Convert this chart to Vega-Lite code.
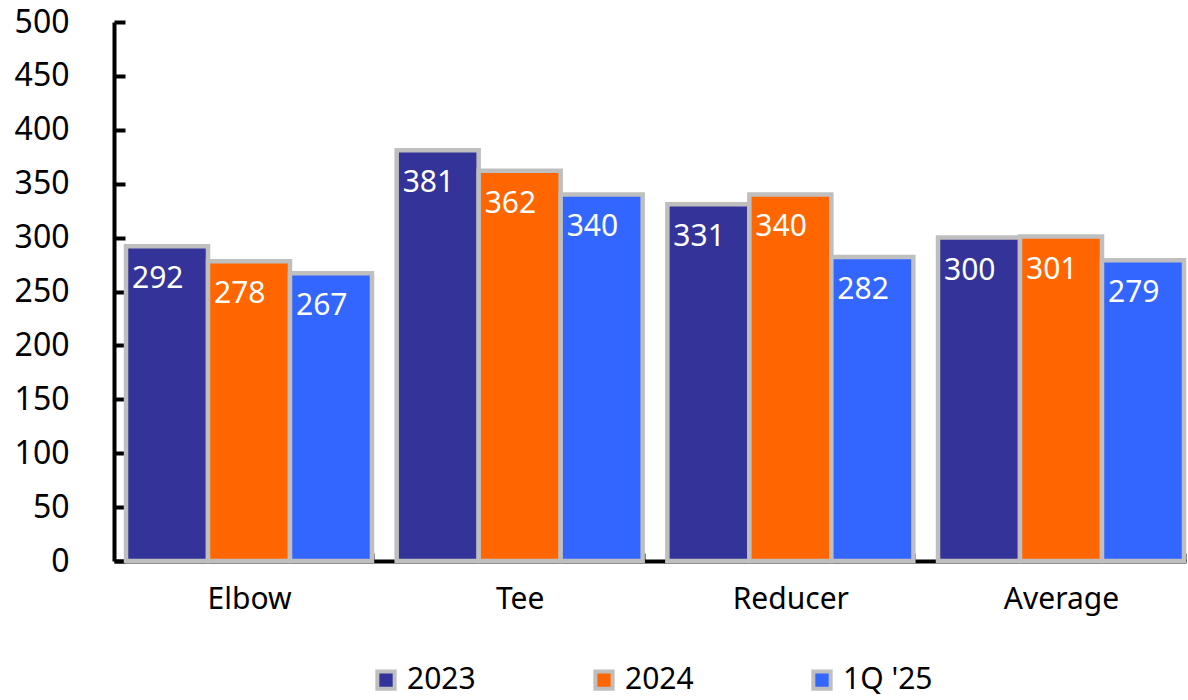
{
  "$schema": "https://vega.github.io/schema/vega-lite/v6.json",
  "width": 1072,
  "height": 539,
  "autosize": {"type": "none"},
  "padding": {"left": 114, "top": 22, "right": 2, "bottom": 139},
  "background": "white",
  "config": {
    "view": {"stroke": null},
    "font": "Noto Sans"
  },
  "data": {
    "values": [
      {"category": "Elbow", "series": "2023", "value": 292},
      {"category": "Elbow", "series": "2024", "value": 278},
      {"category": "Elbow", "series": "1Q '25", "value": 267},
      {"category": "Tee", "series": "2023", "value": 381},
      {"category": "Tee", "series": "2024", "value": 362},
      {"category": "Tee", "series": "1Q '25", "value": 340},
      {"category": "Reducer", "series": "2023", "value": 331},
      {"category": "Reducer", "series": "2024", "value": 340},
      {"category": "Reducer", "series": "1Q '25", "value": 282},
      {"category": "Average", "series": "2023", "value": 300},
      {"category": "Average", "series": "2024", "value": 301},
      {"category": "Average", "series": "1Q '25", "value": 279}
    ]
  },
  "encoding": {
    "x": {
      "field": "category",
      "type": "nominal",
      "sort": ["Elbow", "Tee", "Reducer", "Average"],
      "scale": {"paddingInner": 0.0912, "paddingOuter": 0.0259, "align": 0.857},
      "axis": {
        "title": null,
        "labelAngle": 0,
        "labelFontSize": 30,
        "labelColor": "black",
        "labelPadding": 31,
        "domainColor": "black",
        "domainWidth": 4,
        "tickColor": "black",
        "tickWidth": 4,
        "tickSize": -8,
        "tickBand": "extent"
      }
    },
    "xOffset": {
      "field": "series",
      "type": "nominal",
      "sort": ["2023", "2024", "1Q '25"],
      "scale": {"paddingInner": 0, "paddingOuter": 0}
    },
    "y": {
      "field": "value",
      "type": "quantitative",
      "scale": {"domain": [0, 500], "nice": false},
      "axis": {
        "title": null,
        "values": [0, 50, 100, 150, 200, 250, 300, 350, 400, 450, 500],
        "grid": false,
        "labelFontSize": 32,
        "labelColor": "black",
        "labelPadding": 56,
        "domainColor": "black",
        "domainWidth": 4,
        "tickColor": "black",
        "tickWidth": 4,
        "tickSize": -11
      }
    }
  },
  "layer": [
    {
      "mark": {"type": "bar", "stroke": "#BFBFBF", "strokeWidth": 4.5},
      "encoding": {
        "color": {
          "field": "series",
          "type": "nominal",
          "sort": ["2023", "2024", "1Q '25"],
          "scale": {"domain": ["2023", "2024", "1Q '25"], "range": ["#333399", "#FF6600", "#3366FF"]},
          "legend": {
            "title": null,
            "orient": "none",
            "legendX": 257,
            "legendY": 643,
            "direction": "horizontal",
            "symbolType": "square",
            "symbolSize": 300,
            "symbolStrokeColor": "#BFBFBF",
            "symbolStrokeWidth": 4,
            "symbolOpacity": 1,
            "labelFontSize": 30,
            "labelColor": "black",
            "labelOffset": 6,
            "columnPadding": 111
          }
        }
      }
    },
    {
      "mark": {"type": "text", "color": "white", "fontSize": 30, "align": "left", "baseline": "top", "dx": -35, "dy": 18},
      "encoding": {
        "text": {"field": "value", "type": "quantitative"}
      }
    }
  ]
}
